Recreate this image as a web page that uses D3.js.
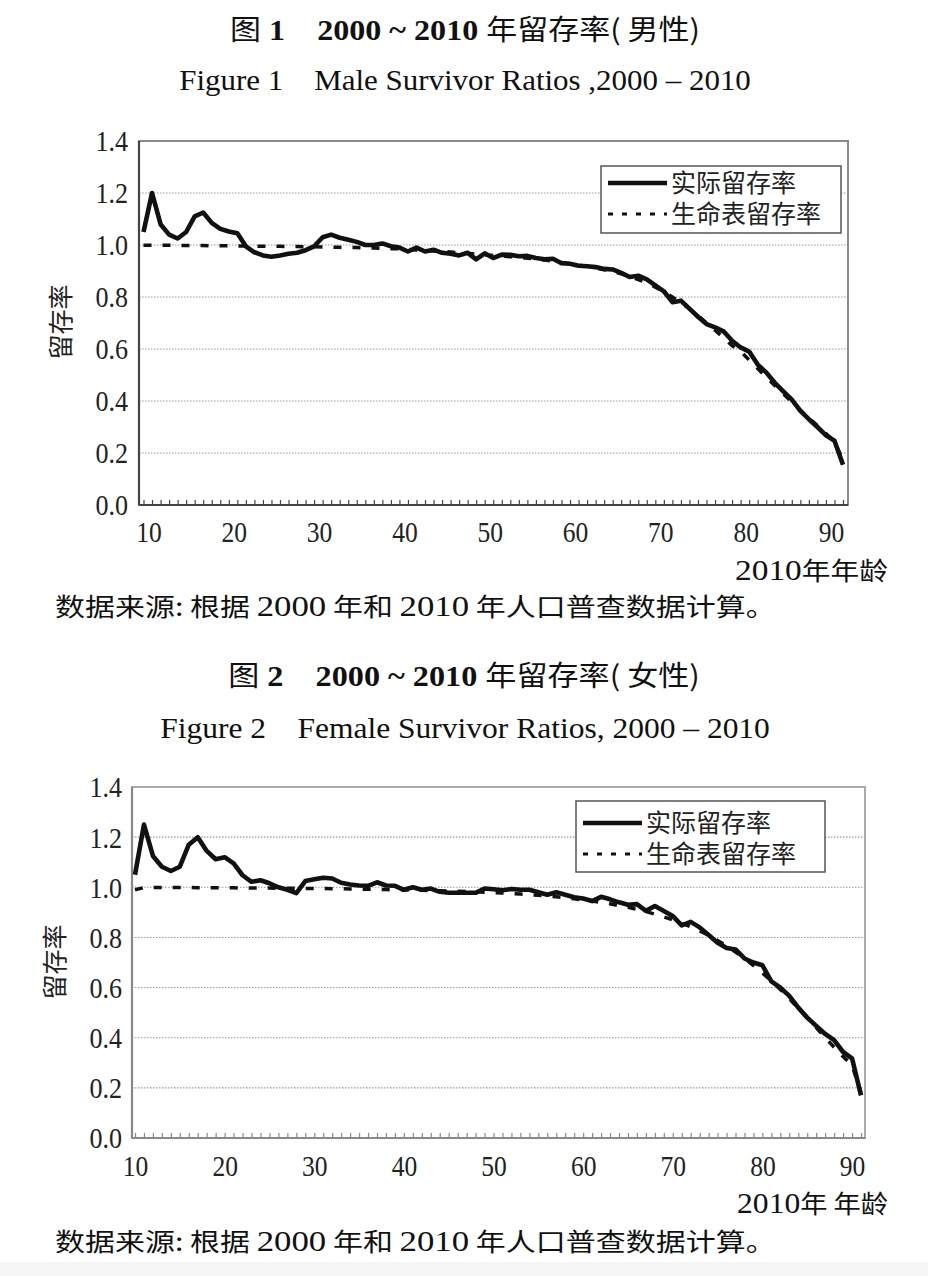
<!DOCTYPE html>
<html><head><meta charset="utf-8">
<script src="https://cdn.jsdelivr.net/npm/d3@7"></script>
<style>body{margin:0;background:#fff} svg{display:block} text{white-space:pre}</style>
</head><body>
<svg id="c" width="928" height="1276"></svg>
<script>
// ---------- data ----------
const ages1 = [10,11,12,13,14,15,16,17,18,19,20,21,22,23,24,25,26,27,28,29,30,31,32,33,34,35,36,37,38,39,40,41,42,43,44,45,46,47,48,49,50,51,52,53,54,55,56,57,58,59,60,61,62,63,64,65,66,67,68,69,70,71,72,73,74,75,76,77,78,79,80,81,82,83,84,85,86,87,88,89,90,91,92];
const actual1 = [1.05,1.20,1.08,1.04,1.025,1.05,1.11,1.125,1.085,1.062,
  1.052,1.045,0.995,0.972,0.96,0.955,0.96,0.966,0.97,0.98,
  0.995,1.03,1.04,1.028,1.02,1.012,1.0,1.0,1.006,0.995,
  0.99,0.975,0.99,0.975,0.982,0.97,0.966,0.96,0.97,0.945,
  0.968,0.95,0.963,0.962,0.957,0.958,0.95,0.945,0.947,0.93,
  0.928,0.92,0.918,0.915,0.908,0.906,0.893,0.877,0.882,0.868,
  0.845,0.822,0.78,0.786,0.755,0.724,0.696,0.683,0.668,0.632,
  0.606,0.59,0.54,0.51,0.47,0.437,0.405,0.362,0.33,0.30,
  0.268,0.247,0.155];
const lifeTable1 = [0.999,0.999,0.999,0.999,0.999,0.998,0.998,0.998,0.997,0.997,
  0.997,0.996,0.996,0.996,0.995,0.995,0.995,0.994,0.994,0.993,
  0.993,0.992,0.992,0.991,0.990,0.990,0.989,0.988,0.987,0.986,
  0.985,0.983,0.981,0.979,0.977,0.975,0.973,0.970,0.968,0.965,
  0.962,0.960,0.958,0.955,0.952,0.949,0.946,0.942,0.938,0.933,
  0.928,0.923,0.918,0.912,0.905,0.898,0.889,0.879,0.867,0.854,
  0.838,0.820,0.800,0.778,0.754,0.728,0.700,0.672,0.643,0.613,
  0.590,0.558,0.525,0.492,0.460,0.428,0.396,0.365,0.335,0.305,
  0.275,0.245,0.170];

const ages2 = [10,11,12,13,14,15,16,17,18,19,20,21,22,23,24,25,26,27,28,29,30,31,32,33,34,35,36,37,38,39,40,41,42,43,44,45,46,47,48,49,50,51,52,53,54,55,56,57,58,59,60,61,62,63,64,65,66,67,68,69,70,71,72,73,74,75,76,77,78,79,80,81,82,83,84,85,86,87,88,89,90,91];
const actual2 = [1.05,1.25,1.125,1.082,1.065,1.082,1.17,1.20,1.145,1.112,
  1.12,1.095,1.048,1.022,1.028,1.016,1.0,0.99,0.977,1.025,
  1.032,1.038,1.035,1.018,1.011,1.007,1.006,1.02,1.007,1.006,
  0.99,1.0,0.99,0.995,0.982,0.978,0.978,0.978,0.978,0.995,
  0.992,0.988,0.993,0.99,0.99,0.98,0.97,0.98,0.97,0.96,
  0.955,0.945,0.962,0.952,0.94,0.93,0.933,0.906,0.925,0.905,
  0.885,0.848,0.862,0.84,0.81,0.779,0.758,0.752,0.716,0.70,
  0.689,0.625,0.60,0.567,0.52,0.48,0.447,0.415,0.39,0.343,
  0.318,0.17];
const lifeTable2 = [0.990,0.999,0.999,0.999,0.999,0.999,0.999,0.998,0.998,0.998,
  0.998,0.998,0.997,0.997,0.997,0.997,0.996,0.996,0.996,0.995,
  0.995,0.995,0.994,0.994,0.993,0.993,0.992,0.992,0.991,0.990,
  0.990,0.989,0.988,0.987,0.986,0.985,0.984,0.983,0.982,0.980,
  0.979,0.977,0.975,0.973,0.971,0.968,0.965,0.962,0.958,0.954,
  0.950,0.945,0.940,0.934,0.927,0.920,0.912,0.903,0.893,0.882,
  0.870,0.857,0.842,0.826,0.808,0.788,0.766,0.742,0.716,0.688,
  0.658,0.626,0.592,0.556,0.518,0.479,0.440,0.401,0.362,0.325,
  0.290,0.180];

const yTicks = [0,0.2,0.4,0.6,0.8,1.0,1.2,1.4];
const xTicks = [10,20,30,40,50,60,70,80,90];
const legendLabels = ["实际留存率","生命表留存率"];
const yTitle = "留存率";

// ---------- drawing ----------
const svg = d3.select("#c");
const SERIF = "'Liberation Serif','Times New Roman',serif";
const CJK = "'Noto Sans CJK SC','Noto Sans',sans-serif";

svg.append("rect").attr("x",0).attr("y",1262).attr("width",928).attr("height",14).attr("fill","#f6f6f6");

function fitText(el, cx, cy, target) {
  const w = el.node().getBBox().width;
  el.attr("transform", `translate(${cx},${cy}) scale(${target / w},1)`);
}

function textParts(parts, x, base, target, anchor) {
  const t = svg.append("text").attr("text-anchor", anchor).attr("fill","#111")
    .attr("xml:space", "preserve").style("white-space", "pre");
  parts.forEach(p => t.append("tspan").text(p.t).attr("font-family", p.cjk ? CJK : SERIF)
    .attr("font-weight", p.b ? "bold" : "normal").attr("font-size", p.s));
  fitText(t, x, base, target);
}

function drawChart(c) {
  const x = d3.scaleLinear().domain([c.ages[0], c.ages[c.ages.length-1]]).range([c.xFirst, c.xLast]);
  const y = d3.scaleLinear().domain([0, 1.4]).range([c.bottom, c.top]);
  const g = svg.append("g");

  g.append("g").selectAll("line").data(yTicks.slice(1, -1)).join("line")
    .attr("x1", c.left).attr("x2", c.right).attr("y1", d => y(d)).attr("y2", d => y(d))
    .attr("stroke", "#999").attr("stroke-width", 1.1).attr("stroke-dasharray", "1.5,1.5");

  g.append("rect").attr("x", c.left).attr("y", c.top).attr("width", c.right - c.left)
    .attr("height", c.bottom - c.top).attr("fill", "none").attr("stroke", c.frame).attr("stroke-width", 2);
  g.append("line").attr("x1", c.left).attr("x2", c.left).attr("y1", c.top).attr("y2", c.bottom)
    .attr("stroke", c.axisColor).attr("stroke-width", 2.2);
  g.append("line").attr("x1", c.left).attr("x2", c.right).attr("y1", c.bottom).attr("y2", c.bottom)
    .attr("stroke", c.axisColor).attr("stroke-width", 2.2);

  // minor ticks at every age
  const ta = g.append("g").attr("transform", `translate(0,${c.bottom})`)
    .call(d3.axisBottom(x).tickValues(c.ages).tickSize(-5).tickFormat(""));
  ta.select(".domain").remove();
  ta.selectAll("line").attr("stroke", c.axisColor).attr("stroke-width", 1.2);

  // x labels
  const xg = g.append("g").attr("transform", `translate(${c.labelDx},${c.xLabelBase})`)
    .call(d3.axisBottom(x).tickValues(xTicks).tickSize(0).tickPadding(0).tickFormat(d3.format("d")));
  xg.select(".domain").remove();
  xg.selectAll("text").attr("y", 0).attr("dy", 0).attr("font-family", SERIF).attr("font-size", 29)
    .attr("fill", "#222").attr("transform", "scale(0.88,1)");

  // y labels
  const yg = g.append("g").attr("transform", `translate(${c.yLabelRight},0)`)
    .call(d3.axisLeft(y).tickValues(yTicks).tickSize(0).tickPadding(0).tickFormat(d3.format(".1f")));
  yg.select(".domain").remove();
  yg.selectAll("text").attr("x", 0).attr("dy", "0.34em").attr("font-family", SERIF).attr("font-size", 29)
    .attr("fill", "#222").attr("transform", "scale(0.9,1)");

  // y title
  svg.append("text").text(yTitle).attr("font-family", CJK).attr("font-size", 25).attr("fill", "#222")
    .attr("text-anchor", "middle").attr("transform", `translate(${c.yTitleX},${c.yTitleY}) rotate(-90)`);

  // series
  const line = d3.line().x((d, i) => x(c.ages[i])).y(d => y(d));
  g.append("path").datum(c.actual).attr("d", line).attr("fill", "none").attr("stroke", "#111")
    .attr("stroke-width", 4.6).attr("stroke-linejoin", "round");
  g.append("path").datum(c.life).attr("d", line).attr("fill", "none").attr("stroke", "#111")
    .attr("stroke-width", 3.5).attr("stroke-dasharray", "8,11");

  // legend
  const L = c.legend;
  g.append("rect").attr("x", L.x).attr("y", L.y).attr("width", L.w).attr("height", L.h)
    .attr("fill", "#fff").attr("stroke", "#555").attr("stroke-width", 1.5);
  const rows = [{dash: null, yy: L.y1}, {dash: "5,9", yy: L.y2}];
  rows.forEach((r, i) => {
    g.append("line").attr("x1", L.x + 7).attr("x2", L.x + 66).attr("y1", r.yy).attr("y2", r.yy)
      .attr("stroke", "#111").attr("stroke-width", i === 0 ? 4.5 : 3).attr("stroke-dasharray", r.dash);
    g.append("text").text(legendLabels[i]).attr("x", L.x + 70).attr("y", r.yy).attr("dy", "0.36em")
      .attr("font-family", CJK).attr("font-size", 25).attr("fill", "#222");
  });

  // axis title right
  textParts([{t: "2010", s: 29}, {t: c.xTitleRest, s: 25, cjk: true}], c.xTitleRight, c.xTitleBase, c.xTitleW, "end");
  // note
  textParts([{t: "数据来源: 根据 ", s: 25, cjk: true}, {t: "2000", s: 29}, {t: " 年和 ", s: 25, cjk: true},
         {t: "2010", s: 29}, {t: " 年人口普查数据计算。", s: 25, cjk: true}], 55, c.noteBase, 721, "start");
}

// titles
textParts([{t: "图", s: 28, cjk: true}, {t: " 1    2000 ~ 2010 ", s: 29, b: true}, {t: "年留存率( 男性)", s: 28, cjk: true}], 465, 40, 470, "middle");
textParts([{t: "Figure 1    Male Survivor Ratios ,2000 – 2010", s: 30}], 465, 90, 572, "middle");
textParts([{t: "图", s: 28, cjk: true}, {t: " 2    2000 ~ 2010 ", s: 29, b: true}, {t: "年留存率( 女性)", s: 28, cjk: true}], 464, 686, 472, "middle");
textParts([{t: "Figure 2    Female Survivor Ratios, 2000 – 2010", s: 30}], 465, 738, 610, "middle");

drawChart({
  ages: ages1, actual: actual1, life: lifeTable1,
  left: 139, right: 848, top: 141, bottom: 505,
  xFirst: 143.5, xLast: 843, labelDx: 5, xLabelBase: 542,
  yLabelRight: 128, yTitleX: 70, yTitleY: 322,
  frame: "#8a8a8a", axisColor: "#444",
  legend: {x: 601, y: 166, w: 240, h: 67, y1: 183, y2: 214},
  xTitleRest: "年年龄", xTitleRight: 888, xTitleBase: 580, xTitleW: 153, noteBase: 616
});
drawChart({
  ages: ages2, actual: actual2, life: lifeTable2,
  left: 132, right: 865, top: 787, bottom: 1138,
  xFirst: 135, xLast: 861, labelDx: 0, xLabelBase: 1176,
  yLabelRight: 122, yTitleX: 64, yTitleY: 962,
  frame: "#aaaaaa", axisColor: "#888",
  legend: {x: 576, y: 801, w: 249, h: 71, y1: 823, y2: 854},
  xTitleRest: "年 年龄", xTitleRight: 888, xTitleBase: 1213, xTitleW: 151, noteBase: 1251
});
</script>
</body></html>
